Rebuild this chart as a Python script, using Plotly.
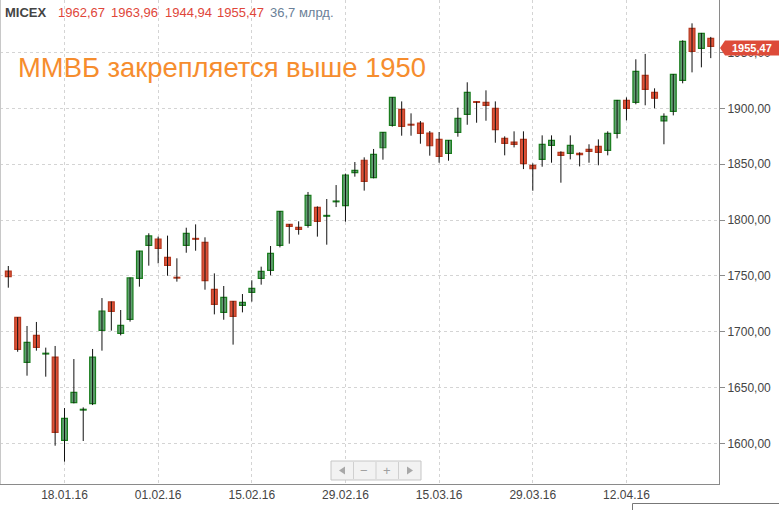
import plotly.graph_objects as go

dates = ["30.12.15",
         "11.01.16", "12.01.16", "13.01.16", "14.01.16", "15.01.16",
         "18.01.16", "19.01.16", "20.01.16", "21.01.16", "22.01.16",
         "25.01.16", "26.01.16", "27.01.16", "28.01.16", "29.01.16",
         "01.02.16", "02.02.16", "03.02.16", "04.02.16", "05.02.16",
         "08.02.16", "09.02.16", "10.02.16", "11.02.16", "12.02.16",
         "15.02.16", "16.02.16", "17.02.16", "18.02.16", "19.02.16",
         "20.02.16", "22.02.16", "24.02.16", "25.02.16", "26.02.16",
         "29.02.16", "01.03.16", "02.03.16", "03.03.16", "04.03.16",
         "07.03.16", "09.03.16", "10.03.16", "11.03.16", "14.03.16",
         "15.03.16", "16.03.16", "17.03.16", "18.03.16", "21.03.16",
         "22.03.16", "23.03.16", "24.03.16", "25.03.16", "28.03.16",
         "29.03.16", "30.03.16", "31.03.16", "01.04.16", "04.04.16",
         "05.04.16", "06.04.16", "07.04.16", "08.04.16", "11.04.16",
         "12.04.16", "13.04.16", "14.04.16", "15.04.16", "18.04.16",
         "19.04.16", "20.04.16", "21.04.16", "22.04.16", "25.04.16"]

open_ = [1754.3, 1712.8, 1672.5, 1696.7, 1680.0, 1677.3, 1602.7, 1636.4, 1629.8, 1635.5,
         1701.2, 1726.6, 1698.5, 1711.0, 1747.8, 1777.3, 1783.0, 1766.6, 1748.6, 1777.3,
         1783.4, 1780.0, 1737.9, 1717.3, 1727.2, 1723.6, 1735.2, 1747.8, 1754.9, 1777.3,
         1796.1, 1793.4, 1795.2, 1811.3, 1803.4, 1816.3, 1812.8, 1842.4, 1853.5, 1837.9,
         1864.7, 1884.7, 1899.1, 1885.6, 1886.8, 1877.9, 1872.2, 1859.7, 1878.5, 1894.6,
         1905.9, 1905.3, 1900.0, 1873.1, 1869.8, 1872.2, 1848.9, 1854.3, 1866.9, 1860.6,
         1859.7, 1859.7, 1863.3, 1866.0, 1862.4, 1877.6, 1907.2, 1905.4, 1929.5, 1914.3,
         1888.7, 1897.3, 1925.1, 1971.6, 1953.7, 1962.67]
high = [1758.8, 1713.0, 1705.1, 1708.7, 1685.7, 1687.2, 1631.6, 1675.5, 1632.2, 1684.5,
        1730.1, 1727.0, 1719.4, 1748.5, 1772.5, 1788.1, 1785.1, 1786.0, 1765.7, 1793.1,
        1796.1, 1784.5, 1752.2, 1740.9, 1727.5, 1733.7, 1746.0, 1758.2, 1776.7, 1808.0,
        1796.3, 1798.8, 1825.1, 1812.2, 1818.8, 1831.3, 1841.5, 1851.9, 1856.1, 1863.6,
        1878.8, 1910.0, 1906.2, 1895.5, 1888.6, 1879.7, 1878.8, 1871.5, 1900.6, 1923.3,
        1906.0, 1916.1, 1906.2, 1874.9, 1879.4, 1879.4, 1850.7, 1875.8, 1875.8, 1861.5,
        1875.8, 1860.6, 1867.8, 1872.2, 1879.4, 1907.5, 1909.8, 1943.9, 1948.7, 1917.9,
        1895.5, 1930.7, 1960.9, 1976.1, 1967.5, 1963.96]
low = [1739.4, 1682.0, 1660.6, 1683.0, 1659.7, 1597.9, 1583.6, 1635.8, 1602.1, 1634.3,
       1683.0, 1700.9, 1696.7, 1709.0, 1740.3, 1759.1, 1761.2, 1750.1, 1744.8, 1770.7,
       1772.5, 1737.6, 1715.5, 1710.7, 1688.4, 1717.3, 1726.9, 1742.1, 1750.5, 1775.5,
       1778.8, 1786.9, 1793.1, 1785.1, 1777.9, 1811.6, 1798.5, 1838.8, 1826.3, 1837.3,
       1854.0, 1883.6, 1875.5, 1875.5, 1868.3, 1857.6, 1851.3, 1853.1, 1874.6, 1885.3,
       1887.1, 1888.9, 1869.2, 1857.9, 1865.0, 1845.6, 1826.2, 1847.7, 1851.3, 1833.4,
       1854.3, 1848.0, 1851.3, 1849.0, 1857.9, 1873.1, 1889.2, 1903.6, 1902.7, 1900.0,
       1867.8, 1893.7, 1922.4, 1932.2, 1936.7, 1944.94]
close = [1749.3, 1684.2, 1690.4, 1686.0, 1680.6, 1609.9, 1622.4, 1645.7, 1630.4, 1677.3,
         1718.5, 1718.2, 1705.7, 1748.1, 1772.2, 1785.7, 1774.6, 1759.4, 1748.0, 1788.1,
         1782.8, 1745.7, 1724.5, 1730.7, 1713.7, 1726.3, 1738.8, 1754.0, 1770.2, 1807.8,
         1794.3, 1791.6, 1822.1, 1798.8, 1804.0, 1816.9, 1840.3, 1844.5, 1834.5, 1858.8,
         1878.5, 1909.8, 1883.9, 1885.0, 1877.6, 1866.5, 1857.0, 1871.3, 1891.0, 1914.3,
         1905.3, 1902.7, 1880.9, 1868.6, 1867.7, 1850.4, 1845.9, 1867.7, 1871.3, 1857.9,
         1866.9, 1858.5, 1861.5, 1860.6, 1877.6, 1907.2, 1900.0, 1933.1, 1917.0, 1909.0,
         1892.8, 1930.4, 1960.0, 1951.0, 1967.2, 1955.47]

tick_dates = ["18.01.16", "01.02.16", "15.02.16", "29.02.16", "15.03.16", "29.03.16", "12.04.16"]
title_text = "ММВБ закрепляется выше 1950"
header_items = ["1962,67", "1963,96", "1944,94", "1955,47"]
volume_text = "36,7 млрд."

W, H = 779, 510
PW, PH = 719, 484           # plot area size in px
Y0, Y1 = 1563.6, 1997.0     # y range
X0, X1 = -0.886, 75.88

UP_FILL, UP_LINE = "#60a070", "#1a7d1e"
DN_FILL, DN_LINE = "#e05238", "#b5391f"
FONT = "Arial, 'Liberation Sans', sans-serif"


def px(xp):
    return xp / PW


def py(yp):
    return 1 - yp / PH


def vy(v):
    return (v - Y0) / (Y1 - Y0)


fig = go.Figure()

# wicks
wx, wy = [], []
for d, h, l in zip(dates, high, low):
    wx += [d, d, None]
    wy += [l, h, None]
fig.add_trace(go.Scatter(x=wx, y=wy, mode="lines", line=dict(color="#111", width=1),
                         hoverinfo="skip", showlegend=False))

# bodies
base = [min(o, c) for o, c in zip(open_, close)]
size = [max(abs(c - o), 0.7) for o, c in zip(open_, close)]
up = [c >= o for o, c in zip(open_, close)]
fig.add_trace(go.Bar(x=dates, y=size, base=base, width=0.62,
                     marker=dict(color=[UP_FILL if u else DN_FILL for u in up],
                                 line=dict(color=[UP_LINE if u else DN_LINE for u in up], width=1.2)),
                     showlegend=False, hoverinfo="skip"))

fig.update_layout(
    width=W, height=H, autosize=False,
    margin=dict(l=0, r=W - PW, t=0, b=H - PH, pad=0),
    paper_bgcolor="white", plot_bgcolor="white",
    separators=", ", barmode="overlay",
    font=dict(family=FONT, size=12, color="#333"),
    showlegend=False,
)
fig.update_xaxes(type="category", range=[X0, X1], tickmode="array",
                 tickvals=tick_dates, ticktext=tick_dates,
                 showgrid=True, gridcolor="#d4d4d4", griddash="dot", gridwidth=1,
                 showline=True, linecolor="#8a8a8a", linewidth=1, ticks="",
                 tickfont=dict(size=12, color="#444", family=FONT), fixedrange=True,
                 automargin=False)
fig.update_yaxes(side="right", range=[Y0, Y1], tick0=1600, dtick=50, tickformat=".2f",
                 showgrid=True, gridcolor="#d4d4d4", griddash="dot", gridwidth=1,
                 showline=True, linecolor="#8a8a8a", linewidth=1,
                 ticks="outside", ticklen=5, tickcolor="#8a8a8a",
                 tickfont=dict(size=12, color="#444", family=FONT), zeroline=False,
                 automargin=False)

shapes = []
# left border
shapes.append(dict(type="line", xref="paper", yref="paper", x0=px(0.5), x1=px(0.5), y0=0, y1=1,
                   line=dict(color="#c8c8c8", width=1)))
# price tag
last = close[-1]
yc = vy(last) - 1.5 / PH
hh = 7.5 / PH
shapes.append(dict(type="path", xref="paper", yref="paper", layer="above",
                   path=f"M {px(725)} {yc + hh} L {px(779)} {yc + hh} L {px(779)} {yc - hh} "
                        f"L {px(725)} {yc - hh} L {px(720)} {yc} Z",
                   fillcolor="#dd4b39", line=dict(width=0)))
# nav buttons
bx0, bx1, by0, by1 = 331, 421, 461, 480
shapes.append(dict(type="rect", xref="paper", yref="paper", layer="above",
                   x0=px(bx0), x1=px(bx1), y0=py(by1), y1=py(by0),
                   fillcolor="#f2f2f2", line=dict(color="#c6c6c6", width=1)))
for sx in [353.5, 376, 398.5]:
    shapes.append(dict(type="line", xref="paper", yref="paper", layer="above",
                       x0=px(sx), x1=px(sx), y0=py(by1 - 1), y1=py(by0 + 1),
                       line=dict(color="#d0d0d0", width=1)))
# arrows
shapes.append(dict(type="path", xref="paper", yref="paper", layer="above",
                   path=f"M {px(339)} {py(470.5)} L {px(345)} {py(466.5)} L {px(345)} {py(474.5)} Z",
                   fillcolor="#a8a8a8", line=dict(width=0)))
shapes.append(dict(type="path", xref="paper", yref="paper", layer="above",
                   path=f"M {px(413)} {py(470.5)} L {px(407)} {py(466.5)} L {px(407)} {py(474.5)} Z",
                   fillcolor="#a8a8a8", line=dict(width=0)))
# bottom-right box
shapes.append(dict(type="path", xref="paper", yref="paper",
                   path=f"M {px(632.5)} {py(512)} L {px(632.5)} {py(503.5)} L {px(780)} {py(503.5)}",
                   line=dict(color="#777", width=1)))
fig.update_layout(shapes=shapes)

ann = []
ann.append(dict(text="<b>MICEX</b>", x=px(3), y=py(13), xref="paper", yref="paper",
                xanchor="left", yanchor="middle", showarrow=False,
                font=dict(size=13, color="#444", family=FONT)))
for t, xp in zip(header_items, [56, 109, 163, 215]):
    ann.append(dict(text=t, x=px(xp), y=py(13), xref="paper", yref="paper",
                    xanchor="left", yanchor="middle", showarrow=False,
                    font=dict(size=13, color="#e0463a", family=FONT)))
ann.append(dict(text=volume_text, x=px(268), y=py(13), xref="paper", yref="paper",
                xanchor="left", yanchor="middle", showarrow=False,
                font=dict(size=13, color="#6b7f98", family=FONT)))
ann.append(dict(text=title_text, x=px(16), y=py(67), xref="paper", yref="paper",
                xanchor="left", yanchor="middle", showarrow=False,
                font=dict(size=27.4, color="#f68d2e", family=FONT)))
ann.append(dict(text="<b>" + f"{last:.2f}".replace(".", ",") + "</b>", x=px(752), y=yc,
                xref="paper", yref="paper", xanchor="center", yanchor="middle", showarrow=False,
                font=dict(size=11, color="white", family=FONT)))
ann.append(dict(text="−", x=px(364.5), y=py(470.5), xref="paper", yref="paper",
                xanchor="center", yanchor="middle", showarrow=False,
                font=dict(size=13, color="#a0a0a0", family=FONT)))
ann.append(dict(text="+", x=px(387), y=py(470.5), xref="paper", yref="paper",
                xanchor="center", yanchor="middle", showarrow=False,
                font=dict(size=13, color="#a0a0a0", family=FONT)))
fig.update_layout(annotations=ann)

fig.write_html("out.html", config={"displayModeBar": False},
               post_script="document.body.style.margin='0px';document.body.style.overflow='hidden';")
